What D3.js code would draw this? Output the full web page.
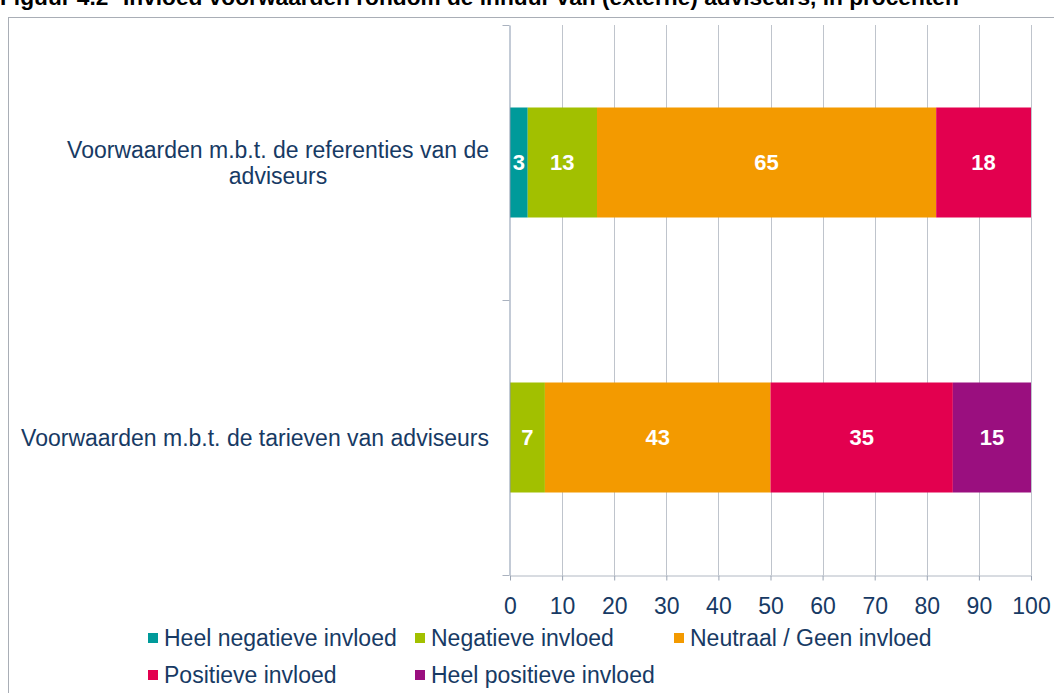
<!DOCTYPE html>
<html>
<head>
<meta charset="utf-8">
<script src="https://cdn.jsdelivr.net/npm/d3@7"></script>
<style>
  body { margin: 0; background: #fff; }
  svg { display: block; font-family: "Liberation Sans", Arial, sans-serif; }
</style>
</head>
<body>
<div id="chart"></div>
<script>
// data
const categories = [
  ["Voorwaarden m.b.t. de referenties van de", "adviseurs"],
  ["Voorwaarden m.b.t. de tarieven van adviseurs"]
];
const seriesNames = ["Heel negatieve invloed", "Negatieve invloed", "Neutraal / Geen invloed", "Positieve invloed", "Heel positieve invloed"];
const heelNegatief = [3.4, 0];
const negatief = [13.3, 6.7];
const neutraal = [65.1, 43.3];
const positief = [18.2, 35.0];
const heelPositief = [0, 15.0];
const xTicks = [0, 10, 20, 30, 40, 50, 60, 70, 80, 90, 100];

const colors = ["#009a9a", "#a2c000", "#f39a00", "#e3004f", "#9a0f7f"];
const textColor = "#173a64";
const fontSize = "23px";

const svg = d3.select("#chart").append("svg")
  .attr("width", 1054)
  .attr("height", 693);

// title (partly cut off at the top)
const title = svg.append("text")
  .attr("y", 5)
  .style("font-size", "22.7px")
  .style("font-weight", "bold")
  .attr("fill", "#000");
title.append("tspan").attr("x", 0).text("Figuur 4.2");
title.append("tspan").attr("x", 123).text("Invloed voorwaarden rondom de inhuur van (externe) adviseurs, in procenten");

// frame
svg.append("rect")
  .attr("x", 8.5)
  .attr("y", 17.5)
  .attr("width", 1100)
  .attr("height", 700)
  .attr("fill", "none")
  .attr("stroke", "#a9aeb6");

const x = d3.scaleLinear().domain([0, 100]).range([510, 1031]);
const rowKeys = categories.map((c, i) => "r" + i);
const y = d3.scaleBand().domain(rowKeys).range([25, 575])
  .paddingInner(0.6).paddingOuter(0.3);
const yEdge = d3.scaleLinear().domain([0, categories.length]).range([25, 575]);

// gridlines
svg.append("g")
  .selectAll("line")
  .data(xTicks.filter(d => d > 0))
  .join("line")
  .attr("x1", d => Math.round(x(d)) + 0.5)
  .attr("x2", d => Math.round(x(d)) + 0.5)
  .attr("y1", 25)
  .attr("y2", 575)
  .attr("stroke", "#bfc4cc");

// stacked bars
const table = rowKeys.map((k, i) => ({
  key: k,
  s0: heelNegatief[i], s1: negatief[i], s2: neutraal[i], s3: positief[i], s4: heelPositief[i]
}));
const stack = d3.stack().keys(["s0", "s1", "s2", "s3", "s4"])(table);

const layers = svg.append("g")
  .selectAll("g")
  .data(stack)
  .join("g")
  .attr("fill", (d, i) => colors[i]);

layers.selectAll("rect")
  .data(d => d)
  .join("rect")
  .attr("x", d => x(d[0]))
  .attr("y", d => y(d.data.key))
  .attr("width", d => x(d[1]) - x(d[0]))
  .attr("height", y.bandwidth());

layers.selectAll("text")
  .data(d => d.filter(p => p[1] - p[0] > 0))
  .join("text")
  .attr("x", d => (x(d[0]) + x(d[1])) / 2)
  .attr("y", d => y(d.data.key) + y.bandwidth() / 2)
  .attr("dy", "0.35em")
  .attr("text-anchor", "middle")
  .attr("fill", "#fff")
  .style("font-size", "22px")
  .style("font-weight", "bold")
  .text(d => d3.format(".0f")(d[1] - d[0]));

// axes
const yAxis = svg.append("g")
  .attr("transform", "translate(509.5,0)")
  .call(d3.axisLeft(yEdge).tickValues([0, 1, 2]).tickFormat("").tickSize(7).tickSizeOuter(0));
yAxis.select(".domain").attr("stroke", "#8796ad");
yAxis.selectAll(".tick line").attr("stroke", "#aab2bf");

const xAxis = svg.append("g")
  .attr("transform", "translate(0,575.5)")
  .call(d3.axisBottom(x).tickValues(xTicks).tickSize(5).tickSizeOuter(0));
xAxis.select(".domain").attr("stroke", "#b1b8c3");
xAxis.selectAll(".tick line").attr("stroke", "#9aa4b3");
xAxis.selectAll(".tick text")
  .attr("y", 22)
  .attr("dy", "0.71em")
  .attr("fill", textColor)
  .style("font-size", fontSize)
  .style("font-family", "'Liberation Sans', Arial, sans-serif");

// category labels
categories.forEach((lines, i) => {
  const cy = y(rowKeys[i]) + y.bandwidth() / 2;
  const g = svg.append("g");
  const t = g.append("text")
    .attr("text-anchor", "middle")
    .attr("fill", textColor)
    .style("font-size", fontSize);
  lines.forEach((line, j) => {
    t.append("tspan")
      .attr("x", 0)
      .attr("y", cy + (j - (lines.length - 1) / 2) * 26)
      .attr("dy", "0.35em")
      .text(line);
  });
  const w = d3.max(t.selectAll("tspan").nodes(), n => n.getComputedTextLength());
  g.attr("transform", `translate(${489 - w / 2},0)`);
});

// legend
const legendPos = [[148, 638], [415, 638], [674, 638], [148, 675], [415, 675]];
const legend = svg.append("g")
  .selectAll("g")
  .data(seriesNames)
  .join("g")
  .attr("transform", (d, i) => `translate(${legendPos[i][0]},${legendPos[i][1]})`);

legend.append("rect")
  .attr("x", 0)
  .attr("y", -5)
  .attr("width", 10)
  .attr("height", 10)
  .attr("fill", (d, i) => colors[i]);

legend.append("text")
  .attr("x", 16)
  .attr("dy", "0.35em")
  .attr("fill", textColor)
  .style("font-size", fontSize)
  .text(d => d);
</script>
</body>
</html>
